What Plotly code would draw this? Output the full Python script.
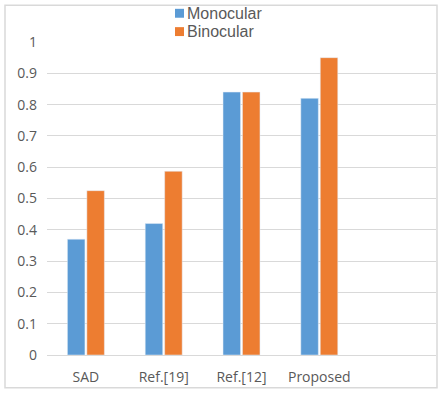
import plotly.graph_objects as go

categories = ["SAD", "Ref.[19]", "Ref.[12]", "Proposed"]
monocular = [0.37, 0.42, 0.84, 0.82]
binocular = [0.525, 0.587, 0.84, 0.95]
series_names = ["Monocular", "Binocular"]
series_colors = ["#5B9BD5", "#ED7D31"]
y_ticks = [0, 0.1, 0.2, 0.3, 0.4, 0.5, 0.6, 0.7, 0.8, 0.9, 1]
y_tick_labels = ["0", "0.1", "0.2", "0.3", "0.4", "0.5", "0.6", "0.7", "0.8", "0.9", "1"]

W, H = 444, 394
L, R, T, B = 47, 8, 42, 36
pw, ph = W - L - R, H - T - B

def px_x(p):
    return (p - L) / pw

def px_y(p):
    return (H - B - p) / ph

font = "Open Sans, Liberation Sans, Arial, sans-serif"
legend_font = "Liberation Sans, Arial, sans-serif"

fig = go.Figure()
for name, vals, col in zip(series_names, [monocular, binocular], series_colors):
    fig.add_trace(go.Bar(x=categories, y=vals, name=name, marker_color=col, showlegend=False))

# manual legend (compact, like the original)
shapes = [dict(type="rect", xref="paper", yref="paper",
               x0=px_x(5), x1=px_x(437), y0=px_y(391), y1=px_y(5),
               line=dict(color="#d9d9d9", width=1.5), fillcolor="rgba(0,0,0,0)", layer="below")]
annotations = []
legend_centers = [13, 31.5]
for name, col, cy in zip(series_names, series_colors, legend_centers):
    shapes.append(dict(type="rect", xref="paper", yref="paper",
                       x0=px_x(175), x1=px_x(184), y0=px_y(cy + 4.5), y1=px_y(cy - 4.5),
                       line=dict(width=0), fillcolor=col))
    annotations.append(dict(text=name, xref="paper", yref="paper", x=px_x(186), y=px_y(cy),
                            xanchor="left", yanchor="middle", showarrow=False,
                            borderpad=0,
                            font=dict(size=16, color="#595959", family=legend_font)))

fig.update_layout(
    width=W, height=H,
    margin=dict(l=L, r=R, t=T, b=B),
    paper_bgcolor="white", plot_bgcolor="white",
    barmode="group", bargap=0.5, bargroupgap=0.1,
    font=dict(family=font, size=14, color="#595959"),
    xaxis=dict(type="category", categoryorder="array", categoryarray=categories,
               range=[-0.5, 4.5], showgrid=False, showline=False, ticks="",
               tickfont=dict(size=14, color="#595959"), ticklabelstandoff=12, fixedrange=True),
    yaxis=dict(range=[0, 1], tickvals=y_ticks, ticktext=y_tick_labels,
               showgrid=True, gridcolor="#d9d9d9", gridwidth=1,
               zeroline=True, zerolinecolor="#d9d9d9", zerolinewidth=1,
               showline=False, ticks="", tickfont=dict(size=14, color="#595959"),
               ticklabelstandoff=9, fixedrange=True),
    shapes=shapes,
    annotations=annotations,
)

fig.write_html("out.html")
